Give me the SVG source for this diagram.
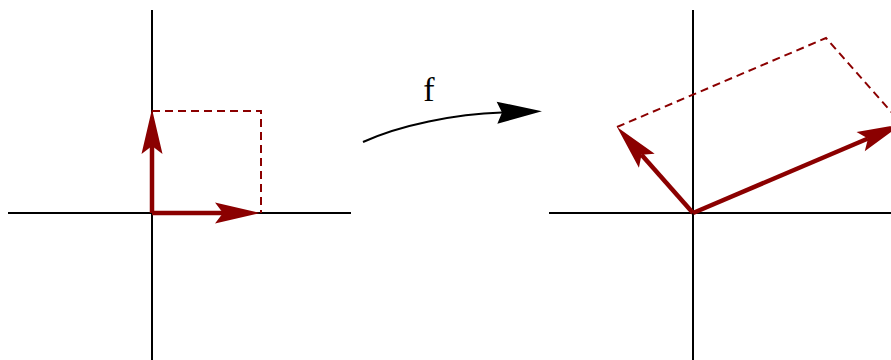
<svg xmlns="http://www.w3.org/2000/svg" width="891" height="360" viewBox="0 0 891 360">
  <style>
    .axis { stroke: #000; stroke-width: 2; fill: none; }
    .vec { stroke: #8b0000; stroke-width: 4.5; fill: none; }
    .dash { stroke: #8b0000; stroke-width: 2; fill: none; stroke-dasharray: 8 5; }
    .map { stroke: #000; stroke-width: 2; fill: none; }
    .lbl { font-family: "Liberation Serif", "Times New Roman", serif; font-size: 34px; fill: #000; }
  </style>
  <defs>
    <marker id="headRed" markerUnits="userSpaceOnUse" markerWidth="60" markerHeight="30" orient="auto" overflow="visible" refX="0" refY="0">
      <path d="M37,0 L-8,10.5 L0,0 L-8,-10.5 Z" fill="#8b0000"/>
    </marker>
    <marker id="headBlack" markerUnits="userSpaceOnUse" markerWidth="60" markerHeight="30" orient="auto" overflow="visible" refX="0" refY="0">
      <path d="M40,0 L-5,11 L0,0 L-5,-11 Z" fill="#000"/>
    </marker>
  </defs>

  <g id="left-plane">
    <line class="axis" x1="8" y1="213" x2="351" y2="213"/>
    <line class="axis" x1="152" y1="10" x2="152" y2="360"/>
    <polyline class="dash" points="152,111 261,111 261,213"/>
    <line class="vec" x1="152" y1="213" x2="223" y2="213" marker-end="url(#headRed)"/>
    <line class="vec" x1="152" y1="213" x2="152" y2="146" marker-end="url(#headRed)"/>
  </g>

  <g id="right-plane">
    <line class="axis" x1="549" y1="213" x2="891" y2="213"/>
    <line class="axis" x1="693" y1="10" x2="693" y2="360"/>
    <polyline class="dash" points="617,127 826,38 902,124"/>
    <line class="vec" x1="693" y1="213" x2="641.5" y2="154.7" marker-end="url(#headRed)"/>
    <line class="vec" x1="693" y1="213" x2="868" y2="138.5" marker-end="url(#headRed)"/>
  </g>

  <g id="connectors">
    <path class="map" d="M363,142 C400,125 455,114 502,112.5" marker-end="url(#headBlack)"/>
    <text class="lbl" x="429" y="101" text-anchor="middle">f</text>
  </g>
</svg>
